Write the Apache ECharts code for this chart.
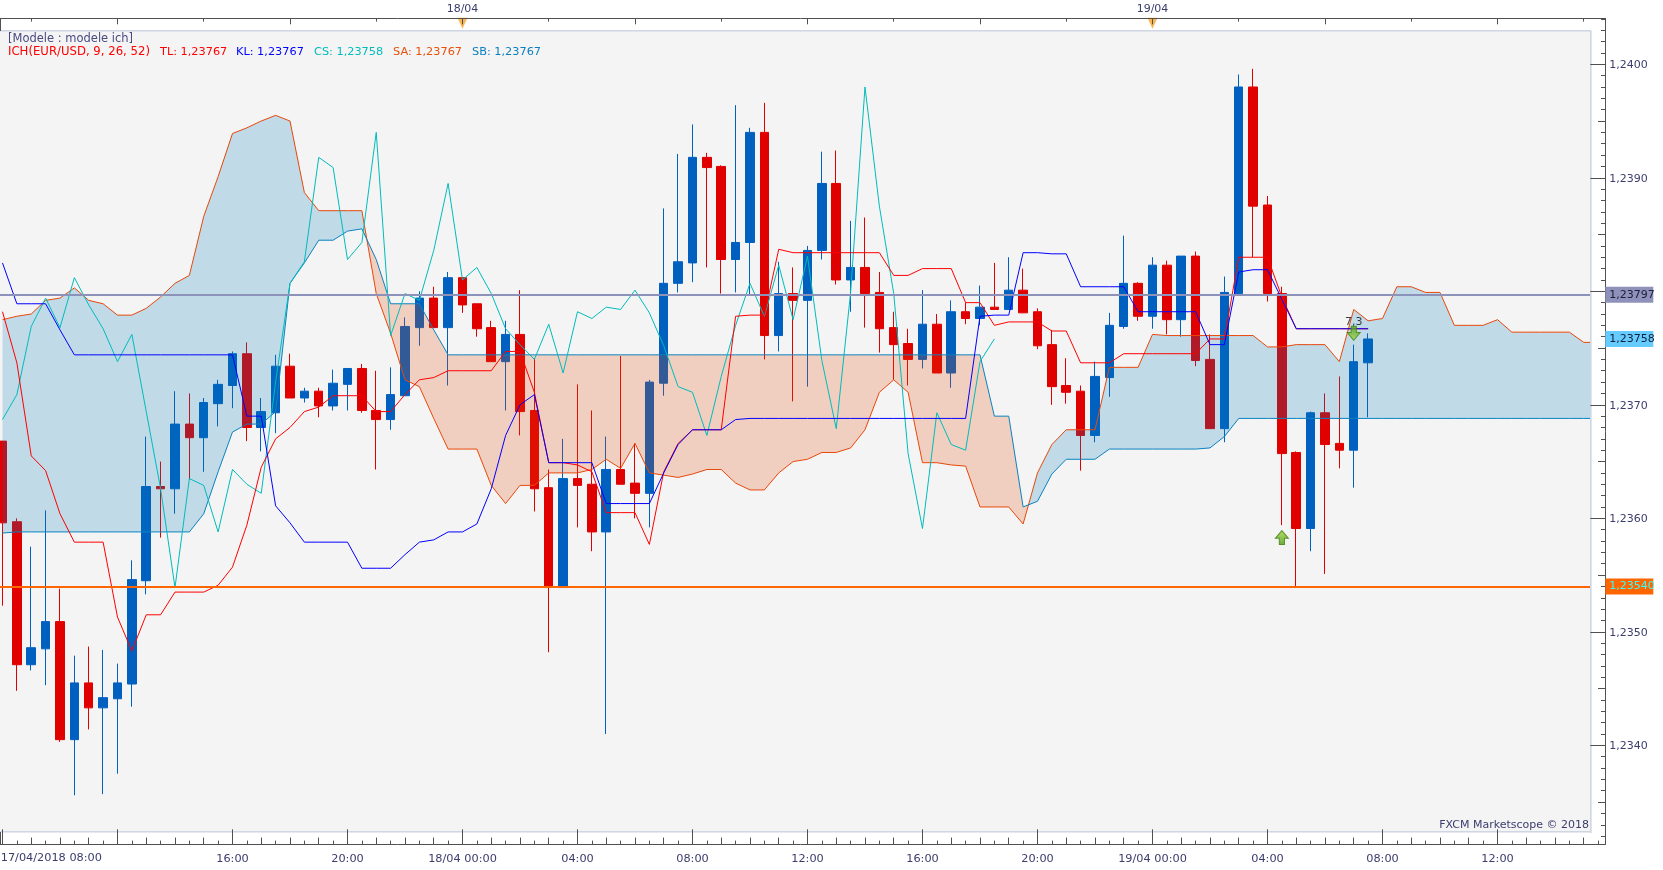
<!DOCTYPE html>
<html><head><meta charset="utf-8">
<script src="https://cdn.jsdelivr.net/npm/echarts@6/dist/echarts.min.js"></script>
<style>html,body{margin:0;padding:0;background:#fff;overflow:hidden;width:1663px;height:870px}#c{position:absolute;left:-5px;top:0;width:1668px;height:870px}</style></head>
<body><div id="c"></div>
<script>
const opens=[
1.23668,1.23597,1.23471,1.23485,1.23509,1.23405,1.23455,1.23433,1.23441,1.23454,
1.23545,1.23628,1.23626,1.23683,1.23671,1.23701,1.23717,1.23745,1.23680,1.23693,
1.23734,1.23706,1.23712,1.23699,1.23718,1.23732,1.23695,1.23687,1.23708,1.23768,
1.23794,1.23768,1.23812,1.23789,1.23768,1.23738,1.23762,1.23695,1.23627,1.23539,
1.23635,1.23630,1.23588,1.23643,1.23631,1.23622,1.23719,1.23807,1.23825,1.23918,
1.23910,1.23828,1.23843,1.23940,1.23761,1.23798,1.23792,1.23836,1.23895,1.23810,
1.23821,1.23799,1.23768,1.23754,1.23740,1.23771,1.23728,1.23782,1.23776,1.23786,
1.23784,1.23801,1.23782,1.23753,1.23717,1.23712,1.23673,1.23724,1.23769,1.23807,
1.23778,1.23823,1.23775,1.23831,1.23740,1.23679,1.23798,1.23980,1.23876,1.23798,
1.23658,1.23591,1.23693,1.23666,1.23660,1.23737];
const closes=[
1.23596,1.23471,1.23486,1.23509,1.23405,1.23455,1.23433,1.23442,1.23455,1.23546,
1.23628,1.23626,1.23683,1.23671,1.23702,1.23718,1.23745,1.23680,1.23694,1.23734,
1.23706,1.23712,1.23699,1.23719,1.23732,1.23695,1.23687,1.23709,1.23769,1.23794,
1.23768,1.23812,1.23788,1.23767,1.23738,1.23762,1.23694,1.23626,1.23539,1.23635,
1.23629,1.23588,1.23643,1.23630,1.23622,1.23720,1.23807,1.23826,1.23918,1.23909,
1.23828,1.23843,1.23940,1.23761,1.23798,1.23792,1.23836,1.23895,1.23810,1.23821,
1.23798,1.23767,1.23753,1.23740,1.23771,1.23728,1.23782,1.23776,1.23786,1.23784,
1.23801,1.23781,1.23752,1.23716,1.23711,1.23673,1.23725,1.23770,1.23807,1.23778,
1.23823,1.23775,1.23831,1.23739,1.23679,1.23799,1.23980,1.23875,1.23798,1.23657,
1.23591,1.23693,1.23665,1.23660,1.23738,1.23758];
const lows=[
1.23523,1.23448,1.23466,1.23453,1.23403,1.23356,1.23414,1.23357,1.23375,1.23434,
1.23533,1.23583,1.23604,1.23634,1.23641,1.23681,1.23697,1.23668,1.23659,1.23675,
1.23706,1.23702,1.23689,1.23695,1.23695,1.23693,1.23643,1.23678,1.23708,1.23752,
1.23768,1.23717,1.23781,1.23760,1.23738,1.23695,1.23673,1.23606,1.23482,1.23539,
1.23592,1.23571,1.23410,1.23630,1.23600,1.23592,1.23708,1.23799,1.23808,1.23821,
1.23798,1.23799,1.23796,1.23740,1.23747,1.23703,1.23716,1.23828,1.23806,1.23782,
1.23768,1.23746,1.23722,1.23717,1.23732,1.23728,1.23715,1.23771,1.23770,1.23784,
1.23784,1.23781,1.23749,1.23700,1.23701,1.23642,1.23667,1.23707,1.23767,1.23774,
1.23767,1.23762,1.23760,1.23734,1.23679,1.23667,1.23798,1.23830,1.23791,1.23594,
1.23539,1.23571,1.23551,1.23644,1.23627,1.23689];
const highs=[
1.23668,1.23600,1.23575,1.23607,1.23538,1.23479,1.23487,1.23484,1.23472,1.23563,
1.23672,1.23650,1.23712,1.23710,1.23706,1.23722,1.23747,1.23755,1.23706,1.23744,
1.23745,1.23715,1.23715,1.23731,1.23732,1.23736,1.23730,1.23733,1.23777,1.23800,
1.23804,1.23817,1.23812,1.23789,1.23774,1.23774,1.23801,1.23741,1.23643,1.23670,
1.23718,1.23695,1.23672,1.23743,1.23666,1.23722,1.23873,1.23921,1.23947,1.23922,
1.23911,1.23964,1.23944,1.23966,1.23826,1.23821,1.23840,1.23923,1.23924,1.23862,
1.23865,1.23817,1.23782,1.23767,1.23801,1.23780,1.23792,1.23790,1.23805,1.23825,
1.23830,1.23820,1.23785,1.23766,1.23741,1.23717,1.23738,1.23781,1.23849,1.23808,
1.23830,1.23827,1.23831,1.23835,1.23762,1.23813,1.23991,1.23996,1.23884,1.23804,
1.23659,1.23694,1.23710,1.23725,1.23753,1.23763];
const tenkan=[
1.23782,1.23737,1.23655,1.23642,1.23604,1.23579,1.23579,1.23579,1.23513,1.23483,
1.23515,1.23515,1.23535,1.23535,1.23535,1.23541,1.23557,1.23594,1.23645,1.23670,
1.23680,1.23694,1.23698,1.23708,1.23708,1.23708,1.23694,1.23694,1.23709,1.23722,
1.23724,1.23730,1.23730,1.23730,1.23730,1.23747,1.23747,1.23711,1.23649,1.23649,
1.23647,1.23641,1.23605,1.23605,1.23605,1.23577,1.23641,1.23666,1.23678,1.23678,
1.23678,1.23778,1.23779,1.23779,1.23837,1.23834,1.23834,1.23834,1.23834,1.23834,
1.23834,1.23834,1.23814,1.23814,1.23820,1.23820,1.23820,1.23790,1.23790,1.23770,
1.23773,1.23773,1.23773,1.23765,1.23765,1.23737,1.23737,1.23737,1.23745,1.23745,
1.23745,1.23745,1.23745,1.23745,1.23758,1.23758,1.23830,1.23830,1.23830,1.23795,
1.23767,1.23767,1.23767,1.23767,1.23767,1.23767];
const kijun=[
1.23825,1.23789,1.23789,1.23789,1.23766,1.23744,1.23744,1.23744,1.23744,1.23744,
1.23744,1.23744,1.23744,1.23744,1.23744,1.23744,1.23744,1.23690,1.23690,1.23611,
1.23596,1.23579,1.23579,1.23579,1.23579,1.23556,1.23556,1.23556,1.23568,1.23579,
1.23581,1.23588,1.23588,1.23595,1.23626,1.23673,1.23700,1.23709,1.23649,1.23649,
1.23649,1.23649,1.23613,1.23613,1.23613,1.23613,1.23640,1.23665,1.23678,1.23678,
1.23678,1.23687,1.23688,1.23688,1.23688,1.23688,1.23688,1.23688,1.23688,1.23688,
1.23688,1.23688,1.23688,1.23688,1.23688,1.23688,1.23688,1.23688,1.23778,1.23779,
1.23779,1.23834,1.23834,1.23833,1.23833,1.23804,1.23804,1.23804,1.23804,1.23782,
1.23782,1.23782,1.23782,1.23782,1.23753,1.23753,1.23817,1.23819,1.23819,1.23793,
1.23767,1.23767,1.23767,1.23767,1.23767,1.23767];
const chikou=[
1.23687,1.23709,1.23769,1.23794,1.23768,1.23812,1.23788,1.23767,1.23738,1.23762,
1.23694,1.23626,1.23539,1.23635,1.23629,1.23588,1.23643,1.23630,1.23622,1.23720,
1.23807,1.23826,1.23918,1.23909,1.23828,1.23843,1.23940,1.23761,1.23798,1.23792,
1.23836,1.23895,1.23810,1.23821,1.23798,1.23767,1.23753,1.23740,1.23771,1.23728,
1.23782,1.23776,1.23786,1.23784,1.23801,1.23781,1.23752,1.23716,1.23711,1.23673,
1.23725,1.23770,1.23807,1.23778,1.23823,1.23775,1.23831,1.23739,1.23679,1.23799,
1.23980,1.23875,1.23798,1.23657,1.23591,1.23693,1.23665,1.23660,1.23738,1.23758];
const senkouA=[
1.23775,1.23778,1.23780,1.23792,1.23794,1.23803,1.23792,1.23789,1.23779,1.23779,
1.23785,1.23795,1.23807,1.23814,1.23866,1.23901,1.23939,1.23944,1.23950,1.23955,
1.23950,1.23887,1.23871,1.23871,1.23871,1.23871,1.23798,1.23763,1.23722,1.23716,
1.23688,1.23661,1.23661,1.23661,1.23629,1.23613,1.23629,1.23629,1.23640,1.23640,
1.23640,1.23643,1.23652,1.23644,1.23666,1.23640,1.23638,1.23636,1.23639,1.23643,
1.23643,1.23631,1.23625,1.23625,1.23640,1.23650,1.23652,1.23658,1.23658,1.23662,
1.23678,1.23711,1.23722,1.23711,1.23649,1.23649,1.23647,1.23646,1.23610,1.23610,
1.23610,1.23595,1.23640,1.23665,1.23678,1.23678,1.23678,1.23733,1.23733,1.23733,
1.23762,1.23761,1.23761,1.23761,1.23761,1.23761,1.23761,1.23761,1.23751,1.23751,
1.23753,1.23753,1.23753,1.23738,1.23784,1.23774,1.23776,1.23804,1.23804,1.23799,
1.23799,1.23770,1.23770,1.23770,1.23775,1.23764,1.23764,1.23764,1.23764,1.23764,
1.23755,1.23755];
const senkouB=[
1.23587,1.23588,1.23588,1.23588,1.23588,1.23588,1.23588,1.23588,1.23588,1.23588,
1.23588,1.23588,1.23588,1.23588,1.23604,1.23641,1.23676,1.23683,1.23683,1.23694,
1.23807,1.23825,1.23845,1.23845,1.23853,1.23855,1.23828,1.23789,1.23789,1.23789,
1.23766,1.23744,1.23744,1.23744,1.23744,1.23744,1.23744,1.23744,1.23744,1.23744,
1.23744,1.23744,1.23744,1.23744,1.23744,1.23744,1.23744,1.23744,1.23744,1.23744,
1.23744,1.23744,1.23744,1.23744,1.23744,1.23744,1.23744,1.23744,1.23744,1.23744,
1.23744,1.23744,1.23744,1.23744,1.23744,1.23744,1.23744,1.23744,1.23744,1.23690,
1.23690,1.23610,1.23615,1.23639,1.23652,1.23652,1.23652,1.23661,1.23661,1.23661,
1.23661,1.23661,1.23661,1.23661,1.23662,1.23672,1.23688,1.23688,1.23688,1.23688,
1.23688,1.23688,1.23688,1.23688,1.23688,1.23688,1.23688,1.23688,1.23688,1.23688,
1.23688,1.23688,1.23688,1.23688,1.23688,1.23688,1.23688,1.23688,1.23688,1.23688,
1.23688,1.23688];
const priceLevels=[1.23797,1.23540];
const priceTags=[1.23797,1.23758,1.23540];
const yLabelled=[1.2400,1.2390,1.2370,1.2360,1.2350,1.2340];
const yMajor=[1.2340,1.2350,1.2360,1.2370,1.2380,1.2390,1.2400];
const yMid=[1.2335,1.2345,1.2355,1.2365,1.2375,1.2385,1.2395];
const yMinor=[1.2332,1.2333,1.2334,1.2336,1.2337,1.2338,1.2339,1.2341,1.2342,1.2343,1.2344,1.2346,1.2347,1.2348,1.2349,
1.2351,1.2352,1.2353,1.2354,1.2356,1.2357,1.2358,1.2359,1.2361,1.2362,1.2363,1.2364,1.2366,1.2367,1.2368,1.2369,
1.2371,1.2372,1.2373,1.2374,1.2376,1.2377,1.2378,1.2379,1.2381,1.2382,1.2383,1.2384,1.2386,1.2387,1.2388,1.2389,
1.2391,1.2392,1.2393,1.2394,1.2396,1.2397,1.2398,1.2399,1.2401,1.2402,1.2403,1.2404];
const dayMarks=[32,80];
const arrowUp=[[89,1.23583]];
const arrowDown=[[94,1.23763]];
const legendRow=[["ICH(EUR/USD, 9, 26, 52)",8,"#ff0000"],["TL: 1,23767",160,"#ff0000"],["KL: 1,23767",236,"#0000ff"],["CS: 1,23758",314,"#00bcbc"],["SA: 1,23767",393,"#e8500a"],["SB: 1,23767",472,"#0a7fc0"]];

const OX=5; // the canvas sits 5px left of the page so that the first band can start off-page
const N=112, Y_MIN=1.233128, Y_MAX=1.240405;
const FONT='"DejaVu Sans"', TXT='#3c3c6e', AXC='#505050';
const BLUE='#0060c0', RED='#e00000';
const categories=[], dayLabels=[];
for(let i=0;i<N;i++){
  const m=8*60+30*i, dayIdx=Math.floor(m/1440), mm=m%1440;
  const hh=String(Math.floor(mm/60)).padStart(2,'0'), mi=String(mm%60).padStart(2,'0');
  const d=17+dayIdx;
  categories.push(mm===0?d+'/04 00:00':hh+':'+mi);
  dayLabels.push(dayMarks.includes(i)?d+'/04':'');
}
const idxStep=(start,step)=>{const a=[];for(let i=start;i<N;i+=step)a.push(i);return a;};
const tick4h=idxStep(0,8), tick1h=idxStep(0,2).filter(i=>i%8), tick30=idxStep(1,2);
const labelled4h=tick4h.filter(i=>i!==0&&i!==8);
const top6h=idxStep(8,12), top3h=idxStep(2,12);

const candles=opens.map((o,i)=>[o,closes[i],lows[i],highs[i]]);

const runs=[];let cur={s:0,tIn:null,e:0,tOut:null};
for(let i=0;i<N-1;i++){
  const d0=senkouA[i]-senkouB[i],d1=senkouA[i+1]-senkouB[i+1];
  if(d0*d1<0){const t=d0/(d0-d1);cur.e=i;cur.tOut=t;runs.push(cur);cur={s:i+1,tIn:t,e:0,tOut:null};}
}
cur.e=N-1;runs.push(cur);
function renderCloud(params,api){
  const r=runs[params.dataIndex];
  const P=(i,v)=>api.coord([i,v]);
  const lerp=(a,b,t)=>[a[0]+(b[0]-a[0])*t,a[1]+(b[1]-a[1])*t];
  const pts=[];
  if(r.tIn!==null)pts.push(lerp(P(r.s-1,senkouA[r.s-1]),P(r.s,senkouA[r.s]),r.tIn));
  for(let i=r.s;i<=r.e;i++)pts.push(P(i,senkouA[i]));
  if(r.tOut!==null)pts.push(lerp(P(r.e,senkouA[r.e]),P(r.e+1,senkouA[r.e+1]),r.tOut));
  for(let i=r.e;i>=r.s;i--)pts.push(P(i,senkouB[i]));
  const mid=Math.floor((r.s+r.e)/2);
  const up=senkouA[mid]>senkouB[mid];
  return {type:'polygon',silent:true,shape:{points:pts},style:{fill:up?'rgba(0,122,188,0.213)':'rgba(230,70,0,0.21)'}};
}
const lineS=(name,data,color,z)=>({name,type:'line',data,z,showSymbol:false,symbol:'none',silent:true,animation:false,lineStyle:{color,width:1},xAxisIndex:0,yAxisIndex:0,connectNulls:false});

const xBase={type:'category',data:categories,boundaryGap:true,splitLine:{show:false},z:10};
const yBase={type:'value',position:'right',min:Y_MIN,max:Y_MAX,splitLine:{show:false},z:10,axisLine:{show:false},axisLabel:{show:false}};
const tk=(vals,len)=>({show:true,inside:true,length:len,customValues:vals,alignWithLabel:true,lineStyle:{color:AXC,width:1}});
const fmtY=v=>{
  if(priceTags.some(p=>Math.abs(p-v)<1e-7)){
    const k=Math.abs(v-1.23797)<1e-7?'a':(Math.abs(v-1.23758)<1e-7?'b':'c');
    return '{'+k+'|'+v.toFixed(5).replace('.',',')+'}';
  }
  return '{n|'+v.toFixed(4).replace('.',',')+'}';
};
const boxRich=(bg,color)=>({backgroundColor:bg,color,fontSize:11,fontFamily:FONT,width:44,height:10,padding:[3,0,3,4]});
const arrowFill={type:'linear',x:0,y:0,x2:0,y2:1,colorStops:[{offset:0,color:'#a6d94a'},{offset:1,color:'#4a9a12'}]};
const arrowPath='path://M5,0 L10,5.5 L7,5.5 L7,10 L3,10 L3,5.5 L0,5.5 Z';

const chart=echarts.init(document.getElementById('c'),null,{renderer:'canvas'});
chart.setOption({
  animation:false,backgroundColor:'#ffffff',
  grid:{left:0.31,top:18.3,width:1610,height:826,containLabel:false},
  xAxis:[
    {...xBase,position:'bottom',axisLine:{show:true,onZero:false,lineStyle:{color:AXC,width:1}},axisTick:tk(tick4h,15),
      axisLabel:{show:true,customValues:labelled4h,margin:9,color:TXT,fontSize:11.3,fontFamily:FONT}},
    {...xBase,position:'bottom',axisLine:{show:false},axisTick:tk(tick1h,6.7),axisLabel:{show:false}},
    {...xBase,position:'bottom',axisLine:{show:false},axisTick:tk(tick30,3.7),axisLabel:{show:false}},
    {...xBase,data:dayLabels,position:'top',axisLine:{show:true,onZero:false,lineStyle:{color:AXC,width:1}},axisTick:tk(top6h,6),
      axisLabel:{show:true,customValues:dayMarks,margin:4,color:TXT,fontSize:11,fontFamily:FONT}},
    {...xBase,data:dayLabels,position:'top',axisLine:{show:false},axisTick:tk(top3h,3.3),axisLabel:{show:false}}
  ],
  yAxis:[
    {...yBase,axisLine:{show:true,onZero:false,lineStyle:{color:AXC,width:1}},axisTick:tk(yMajor,15),
      axisLabel:{show:true,customValues:yLabelled.concat(priceTags),margin:0,formatter:fmtY,
        rich:{n:{color:TXT,fontSize:11,fontFamily:FONT,padding:[2,0,0,4]},
          a:boxRich('#8e92bb','#20203a'),b:boxRich('#66ccff','#10203a'),c:boxRich('#ff6600','#33ffff')}}},
    {...yBase,axisTick:tk(yMid,7.3)},
    {...yBase,axisTick:tk(yMinor,4.3)}
  ],
  series:[
    {name:'EUR/USD',type:'candlestick',data:candles,z:2,barWidth:9,silent:true,animation:false,
      itemStyle:{color:BLUE,color0:RED,borderColor:BLUE,borderColor0:RED,borderWidth:1}},
    {name:'Cloud',type:'custom',data:runs.map((r,i)=>[i]),z:3,silent:true,clip:false,renderItem:renderCloud,animation:false},
    lineS('SA',senkouA,'#e8480a',4),
    lineS('SB',senkouB,'#0a82c0',4),
    lineS('CS',chikou,'#00bcbc',4),
    lineS('TL',tenkan,'#ff0000',4),
    {...lineS('KL',kijun,'#0000ff',4),
      markLine:{silent:true,symbol:'none',animation:false,z:5,precision:5,label:{show:false},
        data:[{yAxis:priceLevels[0],lineStyle:{color:'#8d92ba',width:2,type:'solid'}},{yAxis:priceLevels[1],lineStyle:{color:'#ff6600',width:2,type:'solid'}}]}},
    {name:'Day',type:'scatter',data:dayMarks.map(i=>[i,1.240361]),symbol:'triangle',symbolRotate:180,symbolSize:[10,11],z:9,silent:true,
      itemStyle:{color:'#f7a428'}},
    {name:'Up',type:'scatter',data:arrowUp,symbol:arrowPath,symbolSize:[13,14],z:6,silent:true,
      itemStyle:{color:arrowFill,borderColor:'#3f7f0c',borderWidth:1}},
    {name:'Down',type:'scatter',data:arrowDown,symbol:arrowPath,symbolRotate:180,symbolSize:[13,14],z:6,silent:true,
      itemStyle:{color:arrowFill,borderColor:'#3f7f0c',borderWidth:1},
      label:{show:true,position:'top',distance:-2,formatter:'7,3',color:'#111',fontSize:11,fontFamily:FONT}}
  ],
  graphic:[
    {type:'rect',z:-5,silent:true,shape:{x:OX,y:31,width:1590.5,height:801},style:{fill:'#f4f4f4'}},
    {type:'rect',z:8,silent:true,shape:{x:OX+1591,y:31,width:14,height:801},style:{fill:'#ffffff'}},
    {type:'rect',z:8,silent:true,shape:{x:OX+1590,y:31,width:1.6,height:802},style:{fill:'#cdd6e2'}},
    {type:'rect',z:-4,silent:true,shape:{x:OX,y:30,width:1591,height:1.6},style:{fill:'#cdd6e2'}},
    {type:'rect',z:-4,silent:true,shape:{x:OX,y:831,width:1591,height:1.6},style:{fill:'#cdd6e2'}},
    {type:'rect',z:9,silent:true,shape:{x:OX,y:18,width:1,height:13},style:{fill:AXC}},
    {type:'rect',z:9,silent:true,shape:{x:OX,y:832,width:1,height:12},style:{fill:AXC}},
    {type:'text',z:9,silent:true,style:{x:OX+0.7,y:858,text:'17/04/2018 08:00',fill:TXT,font:'11.3px '+FONT,textVerticalAlign:'middle'}},
    {type:'text',z:9,silent:true,style:{x:OX+8,y:39,text:'[Modele : modele ich]',fill:'#4a4a80',font:'11.5px '+FONT,textVerticalAlign:'middle'}},
    ...legendRow.map(r=>({type:'text',z:9,silent:true,style:{x:OX+r[1],y:51.7,text:r[0],fill:r[2],font:(r[1]===8?'11.7px ':'11.3px ')+FONT,textVerticalAlign:'middle'}})),
    {type:'text',z:9,silent:true,style:{x:OX+1589,y:825,text:'FXCM Marketscope © 2018',fill:TXT,font:'11px '+FONT,textAlign:'right',textVerticalAlign:'middle'}}
  ]
});
</script></body></html>
